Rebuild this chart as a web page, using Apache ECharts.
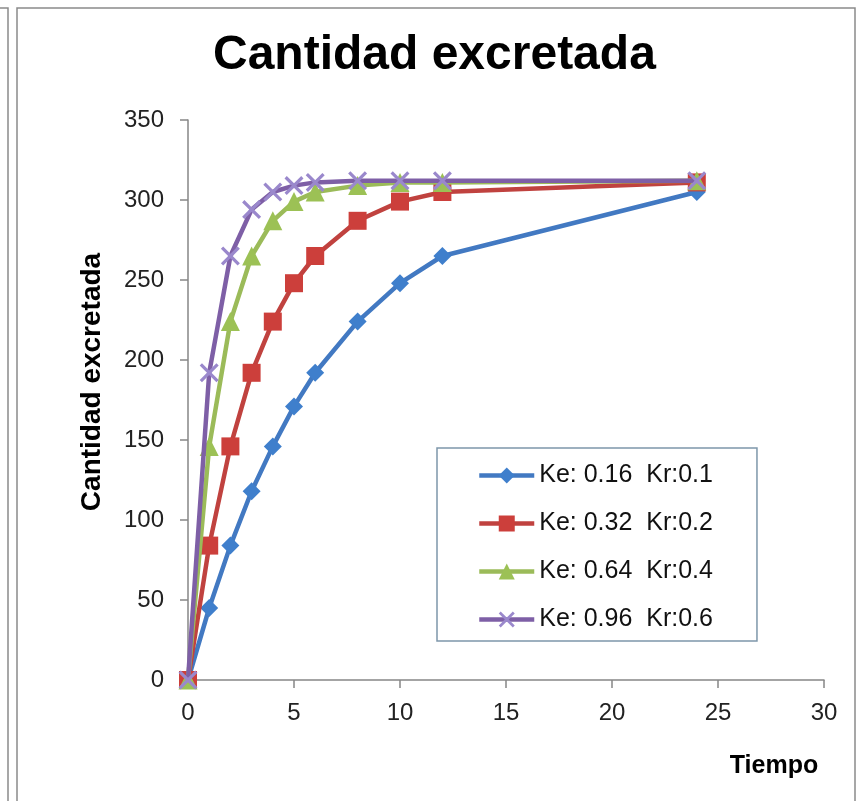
<!DOCTYPE html>
<html>
<head>
<meta charset="utf-8">
<script src="https://cdn.jsdelivr.net/npm/echarts@6/dist/echarts.min.js"></script>
<style>
html,body{margin:0;padding:0;background:#fff;}
#chart{width:858px;height:801px;}
</style>
</head>
<body>
<div id="chart"></div>
<script>
var titleText = 'Cantidad excretada';
var xAxisName = 'Tiempo';
var yAxisName = 'Cantidad excretada';
var times = [0, 1, 2, 3, 4, 5, 6, 8, 10, 12, 24];
var seriesNames = ['Ke: 0.16  Kr:0.1', 'Ke: 0.32  Kr:0.2', 'Ke: 0.64  Kr:0.4', 'Ke: 0.96  Kr:0.6'];
var serie1 = [0, 45, 84, 118, 146, 171, 192, 224, 248, 265, 305];
var serie2 = [0, 84, 146, 192, 224, 248, 265, 287, 299, 305, 311];
var serie3 = [0, 146, 224, 265, 287, 299, 305, 309, 311, 311, 312];
var serie4 = [0, 192, 265, 294, 305, 309, 311, 312, 312, 312, 312];
var yTicks = [0, 50, 100, 150, 200, 250, 300, 350];
var xTicks = [0, 5, 10, 15, 20, 25, 30];

function pairs(vals) { return times.map(function (t, i) { return [t, vals[i]]; }); }

var xSymbol = 'path://M0,1.2 L1.2,0 L10,8.8 L8.8,10 Z M8.8,0 L10,1.2 L1.2,10 L0,8.8 Z';
var lineColors = ['#4279C2', '#C0423F', '#9BBB59', '#7E5FA6'];
var markColors = ['#3F7FCC', '#CC3F3B', '#9CC155', '#9A88CC'];
var symbols = ['diamond', 'rect', 'triangle', xSymbol];
var sizes = [18, 18, 19, 19];
var datasets = [serie1, serie2, serie3, serie4];

var chart = echarts.init(document.getElementById('chart'));
chart.setOption({
  animation: false,
  backgroundColor: '#fff',
  title: {
    text: titleText,
    left: 213,
    top: 32,
    padding: 0,
    textStyle: { fontFamily: 'Liberation Sans, Arial', fontSize: 48, fontWeight: 'bold', color: '#000' }
  },
  graphic: [
    { type: 'rect', shape: { x: 17, y: 8, width: 838, height: 800 }, style: { fill: null, stroke: '#8a8a8a', lineWidth: 1.5 }, silent: true },
    { type: 'polyline', shape: { points: [[0, 8], [8, 8], [8, 801]] }, style: { fill: null, stroke: '#8a8a8a', lineWidth: 1.5 }, silent: true }
  ],
  legend: {
    orient: 'vertical',
    left: 437,
    top: 448,
    padding: [15, 44, 9, 40],
    borderColor: '#7E97AB',
    borderWidth: 1.5,
    itemWidth: 55,
    itemHeight: 20,
    itemGap: 23,
    lineStyle: { width: 4.5 },
    textStyle: { fontFamily: 'Liberation Sans, Arial', fontSize: 25, color: '#111' },
    data: seriesNames
  },
  grid: { left: 188, right: 34, top: 120, bottom: 121, containLabel: false },
  xAxis: {
    type: 'value',
    min: xTicks[0], max: xTicks[xTicks.length - 1], interval: 5,
    name: xAxisName,
    nameLocation: 'end',
    nameGap: -50,
    nameTextStyle: { fontFamily: 'Liberation Sans, Arial', fontSize: 25, fontWeight: 'bold', color: '#000', align: 'center', verticalAlign: 'top', padding: [74, 0, 0, 0] },
    axisLine: { lineStyle: { color: '#868686', width: 1.5 } },
    axisTick: { show: true, length: 8, lineStyle: { color: '#868686', width: 1.5 } },
    axisLabel: { margin: 21, fontFamily: 'Liberation Sans, Arial', fontSize: 24, color: '#222' },
    splitLine: { show: false }
  },
  yAxis: {
    type: 'value',
    min: yTicks[0], max: yTicks[yTicks.length - 1], interval: 50,
    name: yAxisName,
    nameLocation: 'middle',
    nameGap: 82,
    nameTextStyle: { fontFamily: 'Liberation Sans, Arial', fontSize: 28, fontWeight: 'bold', color: '#000', padding: [0, 0, 0, 36] },
    axisLine: { show: true, lineStyle: { color: '#868686', width: 1.5 } },
    axisTick: { show: true, length: 8, lineStyle: { color: '#868686', width: 1.5 } },
    axisLabel: { margin: 24, fontFamily: 'Liberation Sans, Arial', fontSize: 24, color: '#222' },
    splitLine: { show: false }
  },
  series: datasets.map(function (d, i) {
    return {
      name: seriesNames[i],
      type: 'line',
      data: pairs(d),
      symbol: symbols[i],
      symbolSize: sizes[i],
      showAllSymbol: true,
      lineStyle: { color: lineColors[i], width: 4.5 },
      itemStyle: { color: markColors[i] },
      z: 2 + i
    };
  })
});
</script>
</body>
</html>
